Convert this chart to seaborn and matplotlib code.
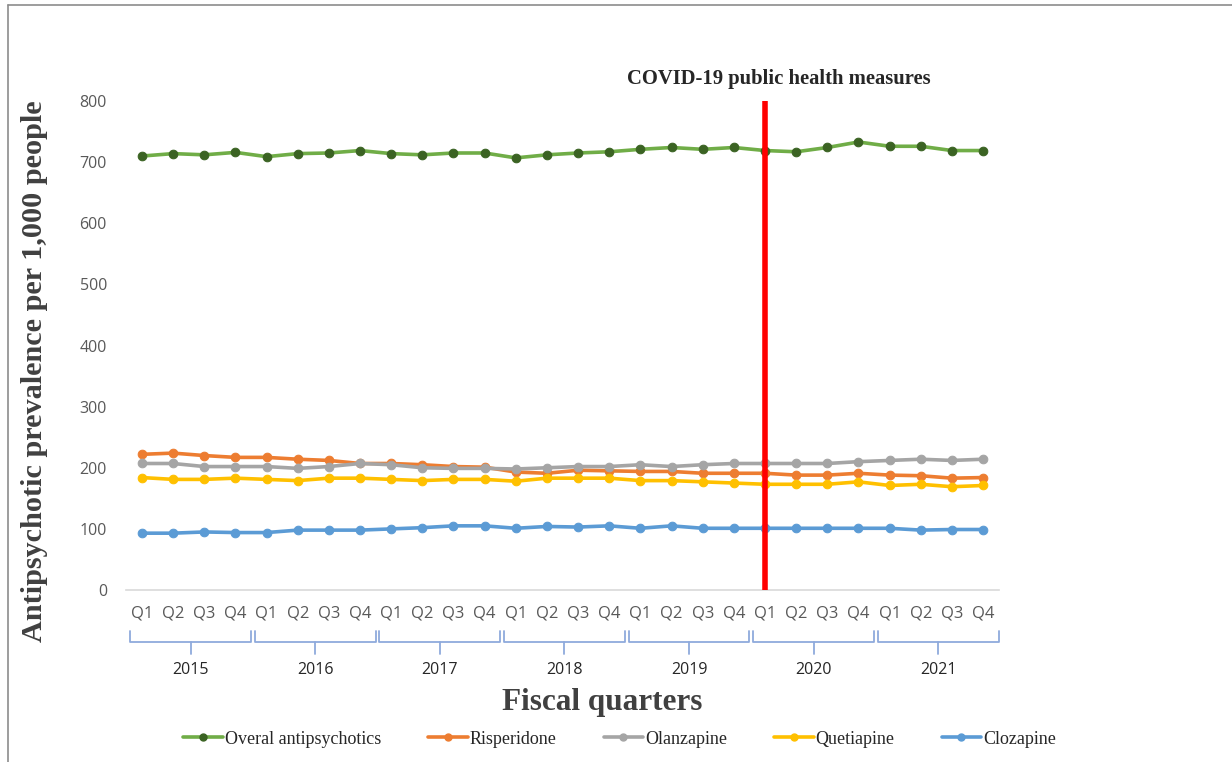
import numpy as np
import pandas as pd
import matplotlib
matplotlib.use("Agg")
import matplotlib.pyplot as plt
from matplotlib.lines import Line2D
import seaborn as sns

# Fiscal quarters 2015 Q1 .. 2021 Q4
years = ["2015", "2016", "2017", "2018", "2019", "2020", "2021"]
quarters = ["Q1", "Q2", "Q3", "Q4"]

overall = [710, 714, 712, 716, 709, 714, 715, 719, 714, 712, 715, 715, 707, 712,
           715, 717, 721, 724, 721, 724, 719, 717, 724, 733, 726, 726, 719, 719]
risperidone = [222, 224, 220, 217, 217, 214, 212, 207, 207, 205, 202, 201, 193, 191,
               196, 195, 194, 194, 191, 191, 191, 188, 188, 191, 188, 187, 183, 184]
olanzapine = [207, 207, 202, 202, 202, 199, 202, 207, 205, 200, 199, 199, 198, 200,
              202, 202, 205, 202, 205, 207, 207, 207, 207, 210, 212, 214, 212, 214]
quetiapine = [184, 181, 181, 183, 181, 179, 183, 183, 181, 179, 181, 181, 178, 183,
              183, 183, 179, 179, 177, 175, 173, 173, 173, 177, 171, 173, 169, 171]
clozapine = [93, 93, 95, 94, 94, 98, 98, 98, 100, 102, 105, 105, 101, 104,
             103, 105, 101, 105, 101, 101, 101, 101, 101, 101, 101, 98, 99, 99]

series_names = ["Overal antipsychotics", "Risperidone", "Olanzapine", "Quetiapine", "Clozapine"]
series_values = [overall, risperidone, olanzapine, quetiapine, clozapine]
line_colors = ["#70AD47", "#ED7D31", "#A5A5A5", "#FFC000", "#5B9BD5"]
marker_colors = ["#3B6323", "#ED7D31", "#A5A5A5", "#FFC000", "#5B9BD5"]

covid_index = 20  # 2020 Q1

sns.set_theme(style="white")
plt.rcParams["font.family"] = ["DejaVu Sans"]

n = len(overall)
pos = np.arange(n)
frames = []
for name, vals in zip(series_names, series_values):
    frames.append(pd.DataFrame({"pos": pos, "value": vals, "series": name}))
df = pd.concat(frames, ignore_index=True)

fig = plt.figure(figsize=(12.32, 7.62), dpi=100)
ax = fig.add_axes([0.1026, 0.2257, 0.708, 0.6417])

for name, lc, mc in zip(series_names, line_colors, marker_colors):
    sub = df[df["series"] == name]
    sns.lineplot(data=sub, x="pos", y="value", ax=ax, color=lc, linewidth=2.6,
                 marker="o", markersize=6.2, markerfacecolor=mc,
                 markeredgecolor=mc, legend=False)

ax.set_xlim(-0.5, n - 0.5)
ax.set_ylim(0, 800)
ax.set_yticks(np.arange(0, 801, 100))
ax.tick_params(axis="y", length=0, pad=14, labelsize=11.5, labelcolor="#595959")
ax.set_yticklabels([str(v) for v in range(0, 801, 100)], fontfamily="Open Sans")

qlabels = [q for _ in years for q in quarters]
ax.set_xticks(pos)
ax.set_xticklabels(qlabels, fontfamily="Open Sans", fontsize=12, color="#595959")
ax.tick_params(axis="x", length=0, pad=11)

for side in ["top", "right", "left"]:
    ax.spines[side].set_visible(False)
ax.spines["bottom"].set_color("#D9D9D9")
ax.spines["bottom"].set_linewidth(1.2)
ax.set_xlabel("")
ax.set_ylabel("")

# COVID-19 marker line
ax.plot([covid_index, covid_index], [0, 800], color="#FF0000", linewidth=4,
        solid_capstyle="butt", zorder=5)
ax.text(covid_index + 0.45, 1.045, "COVID-19 public health measures",
        transform=ax.get_xaxis_transform(), ha="center", va="center",
        fontfamily="Liberation Serif", fontweight="bold", fontsize=14.9)

# year brackets below the quarter labels
trans = ax.get_xaxis_transform()
bcol = "#8FAADC"
ax_h_px = 0.6417 * 762
def ypx(px):
    # pixels below the axis baseline -> axes fraction
    return -px / ax_h_px

for i, yr in enumerate(years):
    x0 = 4 * i - 0.38
    x1 = 4 * i + 3.5
    xm = (x0 + x1) / 2
    kw = dict(transform=trans, color=bcol, linewidth=1.3, clip_on=False)
    ax.add_line(Line2D([x0, x0, x1, x1], [ypx(41), ypx(52), ypx(52), ypx(41)], **kw))
    ax.add_line(Line2D([xm, xm], [ypx(52), ypx(64)], **kw))
    ax.text(xm, ypx(80), yr, transform=trans, ha="center", va="center",
            fontfamily="Open Sans", fontsize=11.5, color="#262626")

fig.text(0.489, 0.078, "Fiscal quarters", ha="center", va="center",
         fontfamily="Liberation Serif", fontweight="bold", fontsize=22.5, color="#404040")
fig.text(0.028, 0.513, "Antipsychotic prevalence per 1,000 people", ha="center",
         va="center", rotation=90, fontfamily="Liberation Serif", fontweight="bold",
         fontsize=21.8, color="#404040")

# legend
handles = [Line2D([0], [0], color=lc, linewidth=2.6, marker="o", markersize=5,
                  markerfacecolor=mc, markeredgecolor=mc)
           for lc, mc in zip(line_colors, marker_colors)]
fig.legend(handles, series_names, loc="center", bbox_to_anchor=(0.503, 0.030),
           ncol=5, frameon=False, handlelength=2.2, handletextpad=0.1,
           columnspacing=2.6, prop={"family": "Liberation Serif", "size": 13})

# outer frame on the left and top edges
fig.add_artist(Line2D([0.0068, 0.0068], [0.0, 0.9935], color="#8C8C8C", linewidth=1.2,
                      transform=fig.transFigure))
fig.add_artist(Line2D([0.0068, 1.0], [0.9935, 0.9935], color="#8C8C8C", linewidth=1.2,
                      transform=fig.transFigure))

fig.savefig("out.png", dpi=100, facecolor="white")
